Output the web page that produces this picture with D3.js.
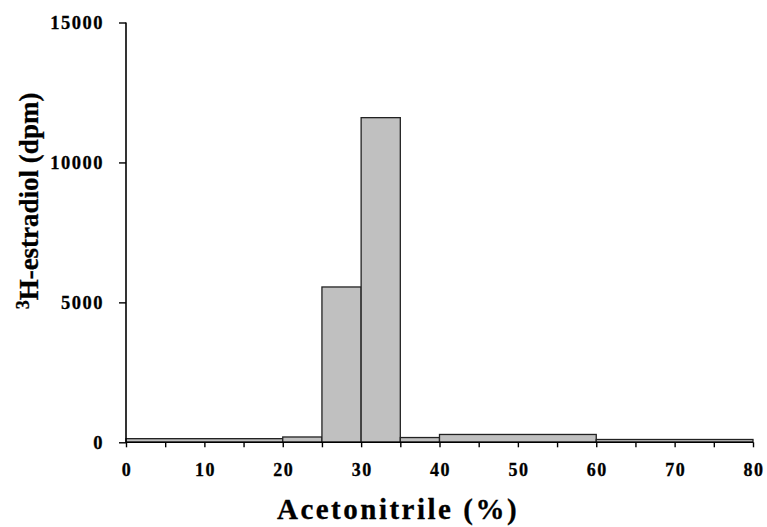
<!DOCTYPE html>
<html>
<head>
<meta charset="utf-8">
<script src="https://cdn.jsdelivr.net/npm/d3@7/dist/d3.min.js"></script>
<style>
body { margin: 0; background: #fff; }
svg { display: block; }
text { font-family: "Liberation Serif", "Times New Roman", serif; font-weight: bold; fill: #000; }
</style>
</head>
<body>
<svg id="chart" width="767" height="527"></svg>
<script>
// Data
const binStart = [0, 20, 25, 30, 35, 40, 60];
const binEnd = [20, 25, 30, 35, 40, 60, 80];
const dpm = [130, 190, 5550, 11600, 170, 280, 100];
const xTicks = [0, 10, 20, 30, 40, 50, 60, 70, 80];
const xMinorTicks = [0, 5, 10, 15, 20, 25, 30, 35, 40, 45, 50, 55, 60, 65, 70, 75, 80];
const yTicks = [0, 5000, 10000, 15000];

const svg = d3.select("#chart");
const x = d3.scaleLinear().domain([0, 80]).range([126, 753]);
const y = d3.scaleLinear().domain([0, 15000]).range([442.3, 22.5]);

const bins = binStart.map((s, i) => ({ s, e: binEnd[i], v: dpm[i] }));

// bars
svg.append("g").selectAll("rect").data(bins).join("rect")
  .attr("x", d => x(d.s))
  .attr("width", d => x(d.e) - x(d.s))
  .attr("y", d => y(d.v))
  .attr("height", d => y(0) - y(d.v))
  .attr("fill", "#c0c0c0")
  .attr("stroke", "#222")
  .attr("stroke-width", 1.3);

// x axis
const xAxis = svg.append("g").attr("transform", `translate(0,${y(0)})`)
  .call(d3.axisBottom(x).tickValues(xMinorTicks).tickSize(5).tickFormat(""));
xAxis.select(".domain").attr("stroke", "#000").attr("stroke-width", 1.6).attr("d", `M${x(0)},0H${x(80)}`);
xAxis.selectAll(".tick line").attr("stroke", "#000").attr("stroke-width", 1.4);

svg.append("g").selectAll("text").data(xTicks).join("text")
  .attr("x", d => x(d) + 1)
  .attr("y", 475.5)
  .attr("text-anchor", "middle")
  .attr("font-size", 18)
  .attr("letter-spacing", 1.5)
  .attr("stroke", "#000").attr("stroke-width", 0.3)
  .text(d => d);

// y axis
const yAxis = svg.append("g").attr("transform", `translate(${x(0)},0)`)
  .call(d3.axisLeft(y).tickValues(yTicks).tickSize(7).tickFormat(""));
yAxis.select(".domain").attr("stroke", "#000").attr("stroke-width", 1.6).attr("d", `M0,${y(0)}V${y(15000)}`);
yAxis.selectAll(".tick line").attr("stroke", "#000").attr("stroke-width", 1.4);

svg.append("g").selectAll("text").data(yTicks).join("text")
  .attr("x", 104)
  .attr("y", d => y(d) + 6.5)
  .attr("text-anchor", "end")
  .attr("font-size", 18.5)
  .attr("letter-spacing", 1.5)
  .attr("stroke", "#000").attr("stroke-width", 0.3)
  .text(d => d);

// x label
svg.append("text")
  .attr("x", 398)
  .attr("y", 519)
  .attr("text-anchor", "middle")
  .attr("font-size", 29)
  .attr("letter-spacing", 2.5)
  .attr("stroke", "#000").attr("stroke-width", 0.3)
  .text("Acetonitrile (%)");

// y label
const yl = svg.append("text")
  .attr("transform", "translate(38,201) rotate(-90)")
  .attr("text-anchor", "middle")
  .attr("font-size", 27)
  .attr("stroke", "#000").attr("stroke-width", 0.3);
yl.append("tspan").attr("font-size", 18).attr("dy", -9).text("3");
yl.append("tspan").attr("dy", 9).text("H-estradiol (dpm)");
</script>
</body>
</html>
